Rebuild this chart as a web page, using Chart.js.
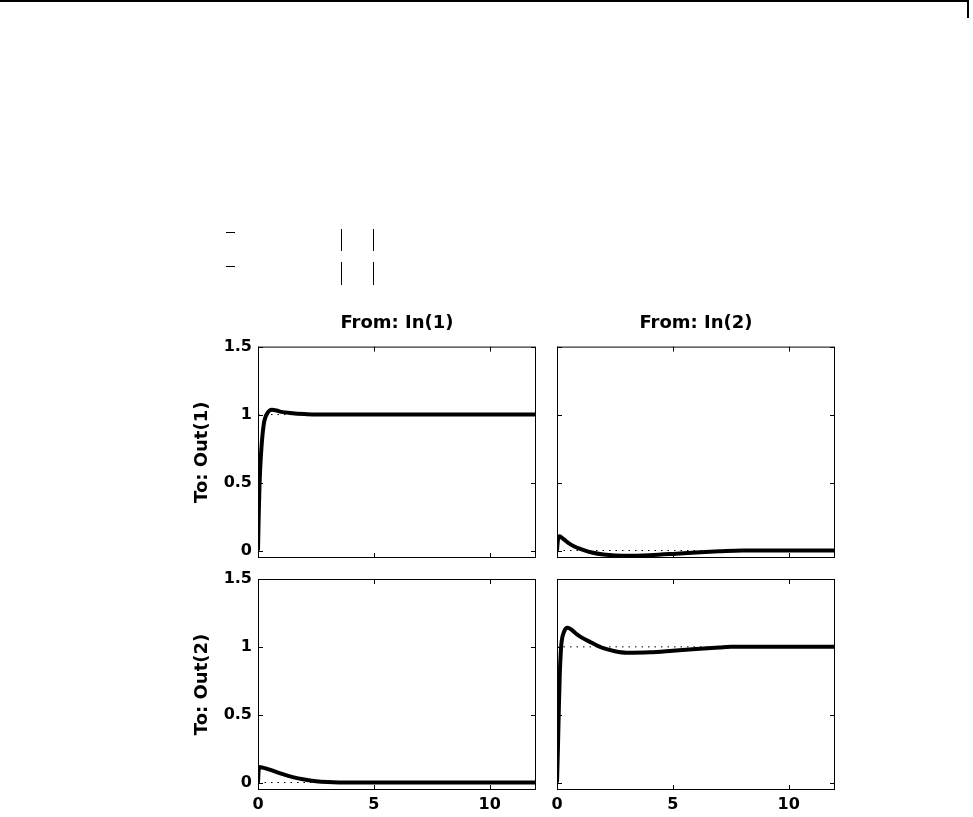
<!DOCTYPE html>
<html>
<head>
<meta charset="utf-8">
<script src="https://cdn.jsdelivr.net/npm/chart.js@4"></script>
<style>
  body { margin: 0; background: #fff; }
  #page { position: relative; width: 973px; height: 817px; overflow: hidden; background: #fff; }
  .mark { position: absolute; background: #000; }
  canvas { position: absolute; }
</style>
</head>
<body>
<div id="page">
  <!-- Rahmenlinien oben -->
  <div class="mark" style="left:0; top:0; width:969px; height:2px;"></div>
  <div class="mark" style="left:967px; top:0; width:2px; height:18px;"></div>
  <div class="mark" style="left:226px; top:232px; width:9px; height:1px;"></div>
  <div class="mark" style="left:226px; top:266px; width:9px; height:1px;"></div>
  <div class="mark" style="left:341px; top:229px; width:1px; height:22px;"></div>
  <div class="mark" style="left:373px; top:229px; width:1px; height:22px;"></div>
  <div class="mark" style="left:341px; top:262px; width:1px; height:23px;"></div>
  <div class="mark" style="left:373px; top:262px; width:1px; height:23px;"></div>

  <canvas id="c11" width="366" height="278" style="left:180px; top:290px;"></canvas>
  <canvas id="c12" width="314" height="278" style="left:546px; top:290px;"></canvas>
  <canvas id="c21" width="366" height="248" style="left:180px; top:569px;"></canvas>
  <canvas id="c22" width="314" height="248" style="left:546px; top:569px;"></canvas>
</div>
<script>
// Achsen
const xTicks = [0, 5, 10];
const yTicks = [0, 0.5, 1, 1.5];
const xMin = 0, xMax = 12;
const yMin = -0.055, yMax = 1.5;

// Sprungantworten
const tOut1In1 = [0, 0.03, 0.06, 0.1, 0.15, 0.2, 0.25, 0.3, 0.4, 0.5, 0.6, 0.8, 1.0, 1.5, 2.0, 2.5, 3, 12];
const yOut1In1 = [0, 0.25, 0.45, 0.62, 0.76, 0.86, 0.93, 0.97, 1.01, 1.03, 1.035, 1.03, 1.02, 1.01, 1.004, 1.0, 1.0, 1.0];

const tOut1In2 = [0, 0.04, 0.1, 0.2, 0.35, 0.5, 0.75, 1.0, 1.25, 1.5, 2, 2.5, 3, 4, 5, 6, 7, 8, 12];
const yOut1In2 = [0, 0.08, 0.105, 0.095, 0.075, 0.055, 0.03, 0.012, -0.003, -0.015, -0.03, -0.037, -0.038, -0.034, -0.025, -0.014, -0.006, 0, 0];

const tOut2In1 = [0, 0.04, 0.2, 0.5, 1, 1.5, 2, 2.5, 3, 4, 12];
const yOut2In1 = [0, 0.115, 0.11, 0.095, 0.065, 0.04, 0.022, 0.01, 0.004, 0, 0];

const tOut2In2 = [0, 0.04, 0.08, 0.12, 0.16, 0.2, 0.3, 0.45, 0.6, 0.8, 1.0, 1.5, 2, 2.5, 3, 4, 5, 6, 7, 7.5, 12];
const yOut2In2 = [0, 0.25, 0.55, 0.8, 0.95, 1.04, 1.11, 1.14, 1.13, 1.1, 1.075, 1.03, 0.99, 0.968, 0.957, 0.96, 0.972, 0.985, 0.995, 1.0, 1.0];

// Endwerte (gepunktete Linie)
const steadyOut1In1 = 1;
const steadyOut1In2 = 0;
const steadyOut2In1 = 0;
const steadyOut2In2 = 1;

const fontFamily = '"DejaVu Sans", Verdana, sans-serif';

// Rahmen und Ticks nach innen (MATLAB-Stil)
const boxPlugin = {
    id: 'boxTicks',
    afterDraw(chart) {
        const { ctx, chartArea: a, scales } = chart;
        const len = 5;
        ctx.save();
        ctx.strokeStyle = '#000';
        ctx.lineWidth = 1;
        ctx.strokeRect(a.left + 0.5, a.top + 0.5, a.right - a.left - 1, a.bottom - a.top - 1);
        ctx.beginPath();
        scales.y.ticks.forEach(t => {
            const py = Math.round(scales.y.getPixelForValue(t.value)) + 0.5;
            ctx.moveTo(a.left, py); ctx.lineTo(a.left + len, py);
            ctx.moveTo(a.right, py); ctx.lineTo(a.right - len, py);
        });
        scales.x.ticks.forEach(t => {
            const px = Math.round(scales.x.getPixelForValue(t.value)) + 0.5;
            ctx.moveTo(px, a.bottom); ctx.lineTo(px, a.bottom - len);
            ctx.moveTo(px, a.top); ctx.lineTo(px, a.top + len);
        });
        ctx.stroke();
        ctx.restore();
    }
};

function toPoints(ts, ys) {
    return ts.map((t, i) => ({ x: t, y: ys[i] }));
}

function makePanel(id, opts) {
    const canvas = document.getElementById(id);
    const config = {
        type: 'line',
        data: {
            datasets: [
                {
                    data: [{ x: xMin, y: opts.steady }, { x: xMax, y: opts.steady }],
                    borderColor: '#000',
                    borderWidth: 1,
                    borderDash: [1.5, 5],
                    pointRadius: 0,
                    fill: false
                },
                {
                    data: toPoints(opts.t, opts.y),
                    borderColor: '#000',
                    borderWidth: 4,
                    pointRadius: 0,
                    cubicInterpolationMode: 'monotone',
                    fill: false
                }
            ]
        },
        options: {
            responsive: false,
            animation: false,
            events: [],
            layout: { padding: { top: opts.padTop, right: opts.padRight, left: 0, bottom: 0 } },
            scales: {
                x: {
                    type: 'linear',
                    min: xMin,
                    max: xMax,
                    grid: { display: false, drawTicks: false },
                    border: { display: false },
                    afterBuildTicks: s => { s.ticks = xTicks.map(v => ({ value: v })); },
                    afterFit: s => { s.height = opts.xHeight; s.paddingLeft = 0; s.paddingRight = 0; },
                    ticks: {
                        display: opts.xLabels,
                        color: '#000',
                        padding: 5,
                        maxRotation: 0,
                        callback: v => String(v),
                        font: { family: fontFamily, size: 16, weight: 'bold' }
                    }
                },
                y: {
                    type: 'linear',
                    min: yMin,
                    max: yMax,
                    grid: { display: false, drawTicks: false },
                    border: { display: false },
                    afterBuildTicks: s => { s.ticks = yTicks.map(v => ({ value: v })); },
                    afterFit: s => { s.width = opts.yWidth; s.paddingTop = 0; s.paddingBottom = 0; },
                    ticks: {
                        display: opts.yLabels,
                        color: '#000',
                        padding: 6,
                        callback: v => String(v),
                        font: { family: fontFamily, size: 16, weight: 'bold' }
                    },
                    title: {
                        display: !!opts.yTitle,
                        text: opts.yTitle || '',
                        color: '#000',
                        padding: { top: 12, bottom: 0 },
                        font: { family: fontFamily, size: 18, weight: 'bold', lineHeight: 1.2 }
                    }
                }
            },
            plugins: {
                legend: { display: false },
                tooltip: { enabled: false },
                title: {
                    display: !!opts.title,
                    text: opts.title || '',
                    fullSize: false,
                    color: '#000',
                    padding: { top: 23, bottom: 12 },
                    font: { family: fontFamily, size: 18, weight: 'bold', lineHeight: 1.2 }
                }
            }
        },
        plugins: [boxPlugin]
    };
    return new Chart(canvas, config);
}

makePanel('c11', { t: tOut1In1, y: yOut1In1, steady: steadyOut1In1, title: 'From: In(1)', yTitle: 'To: Out(1)',
    yLabels: true, xLabels: false, yWidth: 78, xHeight: 10, padTop: 0, padRight: 10 });
makePanel('c12', { t: tOut1In2, y: yOut1In2, steady: steadyOut1In2, title: 'From: In(2)', yTitle: null,
    yLabels: false, xLabels: false, yWidth: 11, xHeight: 10, padTop: 0, padRight: 25 });
makePanel('c21', { t: tOut2In1, y: yOut2In1, steady: steadyOut2In1, title: null, yTitle: 'To: Out(2)',
    yLabels: true, xLabels: true, yWidth: 78, xHeight: 27, padTop: 10, padRight: 10 });
makePanel('c22', { t: tOut2In2, y: yOut2In2, steady: steadyOut2In2, title: null, yTitle: null,
    yLabels: false, xLabels: true, yWidth: 11, xHeight: 27, padTop: 10, padRight: 25 });
</script>
</body>
</html>
